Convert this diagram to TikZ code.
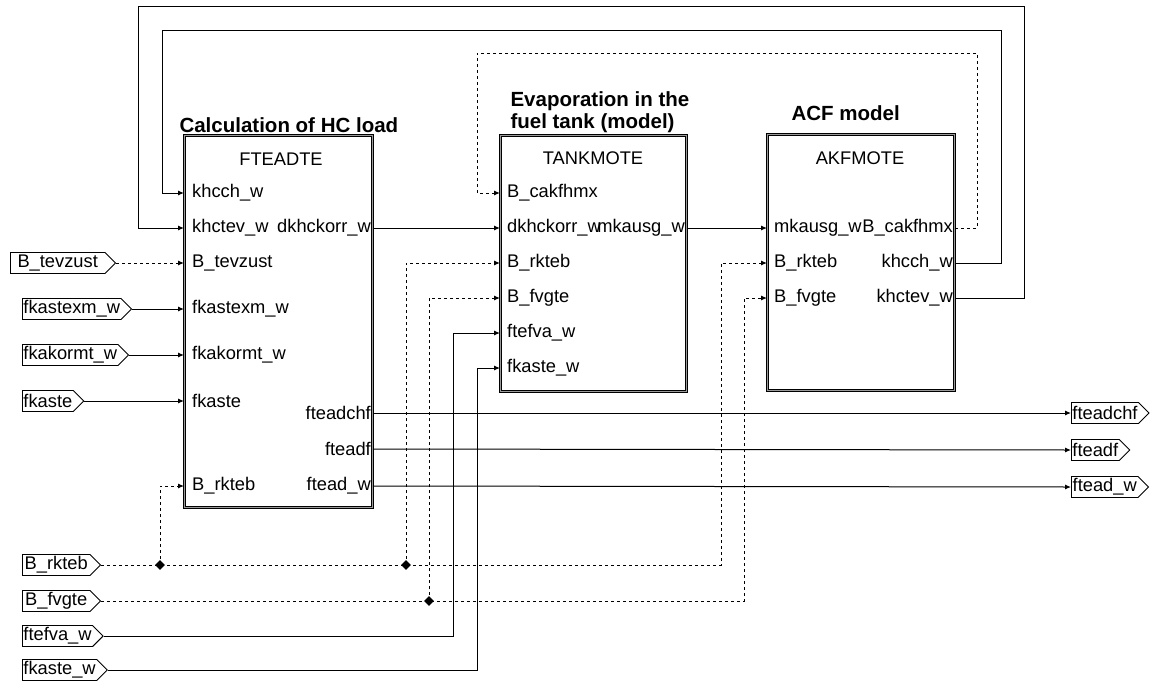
\documentclass[tikz,border=0pt]{standalone}
\usepackage{fontspec}
\setmainfont{Liberation Sans}
\usetikzlibrary{arrows.meta,calc,shapes.symbols,shapes.geometric}
\definecolor{paper}{HTML}{FFFFFF}
\definecolor{ink}{HTML}{000000}
\definecolor{frame}{HTML}{9A9A9A}
\tikzset{
  wire/.style={draw=ink,line width=1pt,-{Latex[length=6pt,width=5pt]}},
  ctrlwire/.style={wire,dash pattern=on 3pt off 3pt},
  block/.style={draw=ink,line width=.8pt,double=frame,double distance=1.6pt,
                fill=paper,inner sep=0pt,anchor=north west},
  sigport/.style={signal,signal to=east,draw=ink,line width=.9pt,fill=paper,
                  minimum height=21pt,inner xsep=1pt,inner ysep=0pt,
                  font=\portfont,anchor=west},
  portl/.style={anchor=west,inner sep=0pt,font=\portfont},
  portr/.style={anchor=east,inner sep=0pt,font=\portfont},
  junction/.style={diamond,fill=ink,minimum size=10pt,inner sep=0pt},
  every node/.style={text=ink}
}
\newcommand{\portfont}{\fontsize{18.3}{21}\selectfont}
\newcommand{\titlefont}{\bfseries\fontsize{20.5}{21.5}\selectfont}

\begin{document}
\begin{tikzpicture}[x=1pt,y=-1pt]
  \useasboundingbox (0,0) rectangle (1150,686);
  \fill[paper] (0,0) rectangle (1150,686);

  % ============================ BLOCKS ============================
  \node[block,minimum width=188pt,minimum height=372pt] (fteadte) at (184,135) {};
  \node[block,minimum width=186pt,minimum height=256pt] (tankmote) at (500,135) {};
  \node[block,minimum width=187pt,minimum height=256pt] (akfmote) at (767,134) {};

  \node[font=\portfont] (fteadte-name) at (281,159) {FTEADTE};
  \node[font=\portfont] (tankmote-name) at (593,158) {TANKMOTE};
  \node[font=\portfont] (akfmote-name) at (860,158) {AKFMOTE};

  % block titles
  \node[anchor=west,font=\titlefont] (title-fteadte) at (176,125)
    {Calculation of HC load};
  \node[anchor=west,align=left,font=\titlefont] (title-tankmote) at (507,112)
    {Evaporation in the\\fuel tank (model)};
  \node[anchor=west,font=\titlefont] (title-akfmote) at (788,113)
    {ACF model};

  % FTEADTE ports
  \node[portl] (f-khcch) at (192,193) {khcch\_w};
  \node[portl] (f-khctev) at (192,228) {khctev\_w};
  \node[portl] (f-tevzust) at (192,263) {B\_tevzust};
  \node[portl] (f-fkastexm) at (192,309) {fkastexm\_w};
  \node[portl] (f-fkakormt) at (192,355) {fkakormt\_w};
  \node[portl] (f-fkaste) at (192,401) {fkaste};
  \node[portl] (f-rkteb) at (192,486) {B\_rkteb};
  \node[portr] (f-dkhc) at (371,228) {dkhckorr\_w};
  \node[portr] (f-fteadchf) at (371,413) {fteadchf};
  \node[portr] (f-fteadf) at (371,449) {fteadf};
  \node[portr] (f-ftead) at (371,486) {ftead\_w};

  % TANKMOTE ports
  \node[portl] (t-cakf) at (507,193) {B\_cakfhmx};
  \node[portl] (t-dkhc) at (507,228) {dkhckorr\_w};
  \node[portl] (t-rkteb) at (507,263) {B\_rkteb};
  \node[portl] (t-fvgte) at (507,298) {B\_fvgte};
  \node[portl] (t-ftefva) at (507,333) {ftefva\_w};
  \node[portl] (t-fkaste) at (507,368) {fkaste\_w};
  \node[portr] (t-mkausg) at (685,228) {mkausg\_w};

  % AKFMOTE ports
  \node[portl] (a-mkausg) at (774,228) {mkausg\_w};
  \node[portl] (a-rkteb) at (774,263) {B\_rkteb};
  \node[portl] (a-fvgte) at (774,298) {B\_fvgte};
  \node[portr] (a-cakf) at (953,228) {B\_cakfhmx};
  \node[portr] (a-khcch) at (953,263) {khcch\_w};
  \node[portr] (a-khctev) at (953,298) {khctev\_w};

  % ======================== SIGNAL PORTS ==========================
  \node[sigport,minimum width=105pt] (tevzust) at (10,263) {B\_tevzust};
  \node[sigport,minimum width=105pt] (fkastexm) at (22,309) {fkastexm\_w};
  \node[sigport,minimum width=105pt] (fkakormt) at (22,355) {fkakormt\_w};
  \node[sigport,minimum width=58pt] (fkaste) at (22,401) {fkaste};
  \node[sigport,minimum width=78pt] (rkteb) at (22,565) {B\_rkteb};
  \node[sigport,minimum width=78pt] (fvgte) at (22,601) {B\_fvgte};
  \node[sigport,minimum width=80pt] (ftefva) at (22,636) {ftefva\_w};
  \node[sigport,minimum width=80pt] (fkastew) at (22,670) {fkaste\_w};

  \node[sigport,minimum width=77pt] (o-fteadchf) at (1071,413) {fteadchf};
  \node[sigport,minimum width=56pt] (o-fteadf) at (1071,450) {fteadf};
  \node[sigport,minimum width=77pt] (o-ftead) at (1071,487) {ftead\_w};

  % bends and junctions
  \coordinate (j-rkteb1) at (160,565);
  \coordinate (j-rkteb2) at (406,565);
  \coordinate (j-fvgte) at (429,601);
  \coordinate (k-rkteb) at (721,263);
  \coordinate (k-fvgte) at (744,298);
  \coordinate (k-ftefva) at (453,333);
  \coordinate (k-fkaste) at (477,368);
  \coordinate (k-khctev-r) at (1024,6);
  \coordinate (k-khctev-l) at (138,6);
  \coordinate (k-khcch-r) at (1001,30);
  \coordinate (k-khcch-l) at (162,30);
  \coordinate (k-cakf-r) at (977,53);
  \coordinate (k-cakf-l) at (477,53);

  % ========================= CONNECTORS ===========================
  \draw[ctrlwire] (tevzust.east) -- (tevzust -| fteadte.west);
  \draw[wire] (fkastexm.east) -- (fkastexm -| fteadte.west);
  \draw[wire] (fkakormt.east) -- (fkakormt -| fteadte.west);
  \draw[wire] (fkaste.east) -- (fkaste -| fteadte.west);

  \draw[ctrlwire] (rkteb.east) -- (j-rkteb2) -| (k-rkteb) -- (a-rkteb -| akfmote.west);
  \draw[ctrlwire] (j-rkteb1) |- (f-rkteb -| fteadte.west);
  \draw[ctrlwire] (j-rkteb2) |- (t-rkteb -| tankmote.west);
  \draw[ctrlwire] (fvgte.east) -| (k-fvgte) -- (a-fvgte -| akfmote.west);
  \draw[ctrlwire] (j-fvgte) |- (t-fvgte -| tankmote.west);
  \draw[wire] (ftefva.east) -| (k-ftefva) -- (t-ftefva -| tankmote.west);
  \draw[wire] (fkastew.east) -| (k-fkaste) -- (t-fkaste -| tankmote.west);

  % main flow
  \draw[wire] (f-dkhc -| fteadte.east) -- (t-dkhc -| tankmote.west);
  \draw[wire] (t-mkausg -| tankmote.east) -- (a-mkausg -| akfmote.west);

  % feedback from the ACF model
  \draw[wire] (a-khctev -| akfmote.east) -| (k-khctev-r) -- (k-khctev-l)
    |- (f-khctev -| fteadte.west);
  \draw[wire] (a-khcch -| akfmote.east) -| (k-khcch-r) -- (k-khcch-l)
    |- (f-khcch -| fteadte.west);
  \draw[ctrlwire] (a-cakf -| akfmote.east) -| (k-cakf-r) -- (k-cakf-l)
    |- (t-cakf -| tankmote.west);

  % outputs
  \draw[wire] (f-fteadchf -| fteadte.east) -- (o-fteadchf.west);
  \draw[wire] (f-fteadf -| fteadte.east) -- (o-fteadf.west);
  \draw[wire] (f-ftead -| fteadte.east) -- (o-ftead.west);

  \foreach \j in {j-rkteb1,j-rkteb2,j-fvgte}{
    \node[junction] at (\j) {};
  }
\end{tikzpicture}
\end{document}
